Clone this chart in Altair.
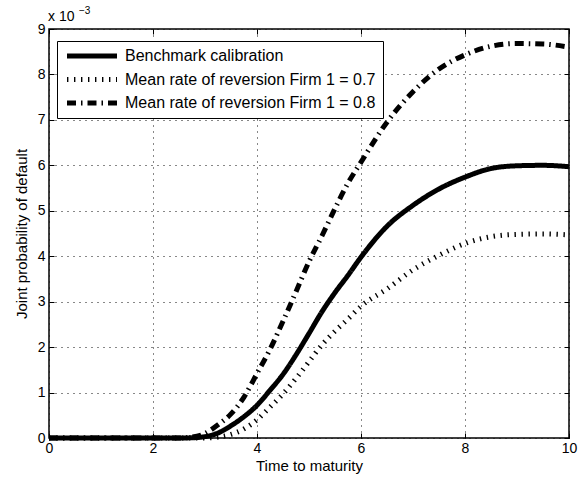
import altair as alt
import pandas as pd

time = [0, 0.5, 1, 1.5, 2, 2.5, 2.75, 3, 3.25, 3.5, 3.75, 4, 4.25, 4.5, 4.75,
        5, 5.25, 5.5, 5.75, 6, 6.5, 7, 7.5, 8, 8.5, 9, 9.5, 10]
benchmark = [0, 0, 0, 0, 0, 0, 0.005, 0.03, 0.11, 0.27, 0.47, 0.72, 1.05, 1.40, 1.83,
             2.30, 2.78, 3.20, 3.58, 3.98, 4.66, 5.12, 5.48, 5.74, 5.93, 5.99, 6.00, 5.97]
firm07 = [0, 0, 0, 0, 0, 0, 0, 0, 0.02, 0.08, 0.20, 0.40, 0.68, 0.97, 1.31,
          1.68, 2.05, 2.35, 2.62, 2.90, 3.28, 3.70, 4.02, 4.28, 4.43, 4.48, 4.49, 4.47]
firm08 = [0, 0, 0, 0, 0, 0, 0.02, 0.10, 0.29, 0.53, 0.90, 1.42, 1.95, 2.57, 3.22,
          3.88, 4.45, 5.05, 5.61, 6.07, 6.95, 7.62, 8.12, 8.43, 8.62, 8.68, 8.67, 8.60]

names = ["Benchmark calibration",
         "Mean rate of reversion Firm 1 = 0.7",
         "Mean rate of reversion Firm 1 = 0.8"]
x_ticks = [0, 2, 4, 6, 8, 10]
y_ticks = [0, 1, 2, 3, 4, 5, 6, 7, 8, 9]

rows = []
for name, vals in zip(names, [benchmark, firm07, firm08]):
    for t, v in zip(time, vals):
        rows.append({"t": t, "v": v, "series": name})
df = pd.DataFrame(rows)

FONT = "Liberation Sans"
xscale = alt.Scale(domain=[0, 10], nice=False, zero=False)
yscale = alt.Scale(domain=[0, 9], nice=False, zero=False)

grid_kw = dict(grid=True, gridDash=[1, 5], gridColor="#111", gridOpacity=1, gridWidth=1)

lines = alt.Chart(df).mark_line(color="black", strokeWidth=5, interpolate="monotone").encode(
    x=alt.X("t:Q", scale=xscale,
            axis=alt.Axis(values=x_ticks, title="Time to maturity", offset=-5, tickSize=5,
                          domain=False, labelFlush=False, labelPadding=3, titlePadding=3,
                          format="d", **grid_kw)),
    y=alt.Y("v:Q", scale=yscale,
            axis=alt.Axis(values=y_ticks, title="Joint probability of default", offset=-5,
                          tickSize=5, domain=False, labelPadding=4,
                          titlePadding=8, format="d", **grid_kw)),
    strokeDash=alt.StrokeDash(
        "series:N",
        scale=alt.Scale(domain=names, range=[[1, 0], [1.4, 5.6], [9, 5, 1.5, 5]]),
        legend=alt.Legend(title=None, orient="none", legendX=8, legendY=12,
                          fillColor="white", strokeColor="black",
                          padding=7, symbolType="M-1,0H9", symbolSize=100,
                          symbolStrokeWidth=5, symbolStrokeColor="black",
                          labelFont=FONT, labelFontSize=16, labelColor="black",
                          rowPadding=7.5, clipHeight=16, labelLimit=400, labelOffset=45)),
)

ticks2 = alt.Chart(df).mark_line(opacity=0).encode(
    x=alt.X("t:Q", scale=xscale,
            axis=alt.Axis(orient="top", values=x_ticks, labels=False, domain=False,
                          grid=False, tickSize=5, offset=-5, title=None)),
    y=alt.Y("v:Q", scale=yscale,
            axis=alt.Axis(orient="right", values=y_ticks, labels=False, domain=False,
                          grid=False, tickSize=5, offset=-5, title=None)),
)

exp_main = alt.Chart(pd.DataFrame({"s": ["x 10"]})).mark_text(
    align="left", baseline="alphabetic", font=FONT, fontSize=14, color="black"
).encode(x=alt.value(-1), y=alt.value(-8), text="s:N")
exp_sup = alt.Chart(pd.DataFrame({"s": ["\u22123"]})).mark_text(
    align="left", baseline="alphabetic", font=FONT, fontSize=10, color="black"
).encode(x=alt.value(30), y=alt.value(-15), text="s:N")

chart = alt.layer(lines, ticks2, exp_main, exp_sup).resolve_scale(
    x="independent", y="independent"
).properties(
    width=520, height=409,
    padding={"left": 49, "top": 29, "right": 10, "bottom": 46},
    autosize=alt.AutoSizeParams(type="none"),
).configure(
    background="white"
).configure_view(
    stroke="black", strokeWidth=1.5
).configure_axis(
    labelFont=FONT, labelFontSize=14, labelColor="black",
    titleFont=FONT, titleFontSize=15, titleFontWeight="normal", titleColor="black",
    tickColor="black", tickWidth=1
)

chart.save("out.html", embed_options={"renderer": "svg", "actions": False})
